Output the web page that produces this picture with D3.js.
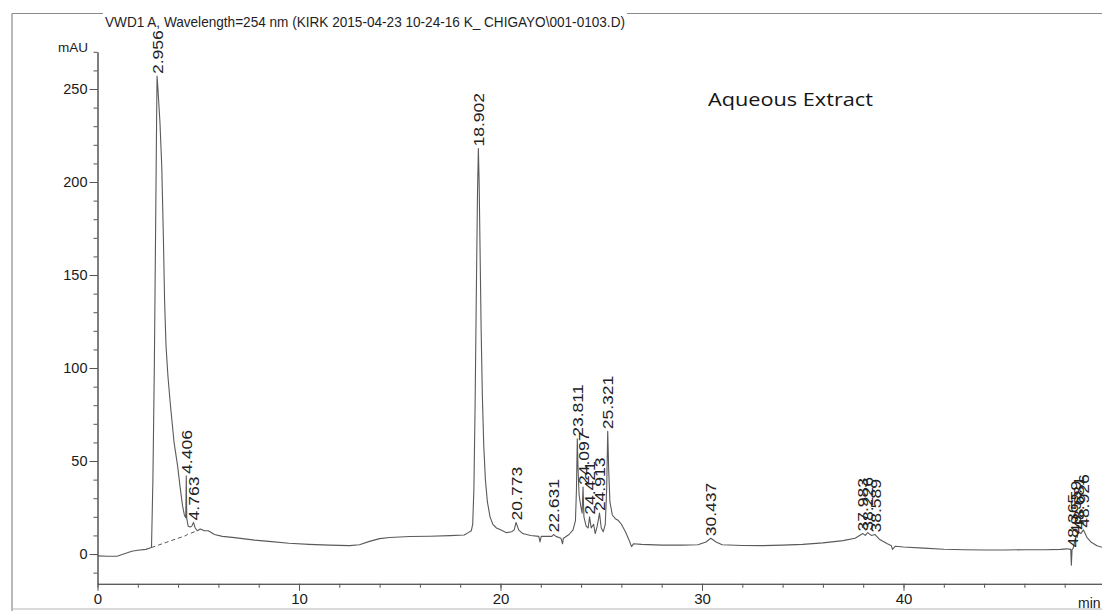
<!DOCTYPE html>
<html>
<head>
<meta charset="utf-8">
<script src="https://cdn.jsdelivr.net/npm/d3@7"></script>
<style>
  html, body { margin: 0; padding: 0; background: #fff; }
  svg { display: block; }
</style>
</head>
<body>
<svg id="chart" width="1102" height="611"></svg>
<script>
// VWD1 A, 254 nm chromatogram of the aqueous extract

// Retention time (min) and detector response (mAU) of the trace
const times = [
  0.0, 0.5, 1.0, 1.3, 1.7, 2.0, 2.4, 2.68,
  2.75, 2.82, 2.88, 2.93, 2.956, 3.0, 3.1, 3.19, 3.27, 3.33, 3.4, 3.5, 3.62,
  3.8, 3.98, 4.1, 4.22, 4.31, 4.38, 4.406, 4.43, 4.5, 4.6, 4.68, 4.763, 4.85, 4.95,
  5.1, 5.3, 5.5, 5.8, 6.2, 6.8, 7.2, 7.8, 8.5, 9.5, 10.5, 11.5, 12.5, 13.0,
  13.5, 14.0, 14.5, 15.5, 16.5, 17.5, 18.2, 18.4, 18.55,
  18.62, 18.68, 18.74, 18.8, 18.86, 18.902, 18.94, 18.99, 19.04, 19.1, 19.17,
  19.25, 19.35, 19.48, 19.62, 19.8, 20.0, 20.3, 20.55, 20.68, 20.773, 20.9, 21.1,
  21.5, 21.9, 21.96, 22.02, 22.4, 22.55, 22.631, 22.75, 23.0, 23.08, 23.12, 23.2,
  23.4, 23.6, 23.72, 23.77, 23.811, 23.85, 23.9, 23.98, 24.05, 24.097, 24.14,
  24.25, 24.35, 24.421, 24.5, 24.62, 24.7, 24.8, 24.913, 25.0, 25.1, 25.2,
  25.27, 25.321, 25.37, 25.43, 25.55, 25.7, 25.85, 26.0, 26.2, 26.4, 26.5, 26.6,
  27.0, 28.0, 29.0, 29.8, 30.2, 30.437, 30.7, 31.0, 32.0, 33.0, 34.0, 35.0,
  36.0, 37.0, 37.6, 37.983, 38.1, 38.226, 38.4, 38.589, 38.8, 39.2, 39.4, 39.45,
  39.6, 40.0, 41.0, 42.0, 43.0, 44.0, 45.0, 46.0, 47.0, 47.8, 48.1, 48.3,
  48.33, 48.365, 48.42, 48.5, 48.559, 48.62, 48.681, 48.8, 48.926, 49.1, 49.3,
  49.6, 49.9
];
const signal = [
  -1.0, -1.2, -1.1, 0.0, 1.5, 2.0, 2.5, 3.5,
  40, 100, 170, 230, 257, 250, 232, 208, 170, 136, 112, 95, 80,
  60, 47, 36, 26, 21, 19.5, 42, 19, 15, 14.5, 15, 17, 14, 12.5,
  13.5, 12.5, 12.5, 10.5, 9.5, 8.8, 8.3, 7.5, 6.8, 5.8, 5.2, 4.8, 4.5, 5.0,
  6.8, 8.3, 8.9, 9.4, 9.6, 9.9, 10.2, 11.5, 12.5,
  16, 35, 80, 140, 195, 218, 200, 160, 120, 85, 58,
  40, 28, 20, 16, 14, 13, 11.5, 12, 13, 17, 13, 11,
  10, 9.5, 6.5, 9.5, 9.5, 9.5, 10.5, 9.5, 8.5, 5.5, 8.5, 9,
  10.5, 13, 18, 35, 62, 45, 32, 26, 22, 36, 20,
  15, 14, 20, 14, 16, 11, 15, 22, 14, 12, 16,
  35, 66, 45, 28, 21, 19, 18, 16, 12, 7, 4, 5.5,
  5.2, 4.8, 4.8, 5.0, 6.5, 8.5, 6.5, 5.0, 4.6, 4.5, 4.8, 5.2,
  6.0, 7.2, 8.5, 11, 10, 11.5, 10, 10.5, 8, 5.5, 4.5, 2.5,
  4.2, 3.8, 3.2, 2.6, 2.3, 2.2, 2.2, 2.3, 2.3, 2.5, 2.8, 2.5,
  -6, 2.5, 3, 7, 9.5, 9, 12, 11, 13, 9, 6.5,
  4.5, 3.5
];

// Drawn baseline under the solvent front peaks
const baselineTimes = [2.68, 4.4, 4.45, 4.95];
const baselineValues = [3.5, 10, 10.5, 12.5];

// Integrated peaks, labelled by retention time
const peakTimes = [
  2.956, 4.406, 4.763, 18.902, 20.773, 22.631, 23.811, 24.097, 24.421, 24.913,
  25.321, 30.437, 37.983, 38.226, 38.589, 48.365, 48.559, 48.681, 48.926
];

const xMajorTicks = [0, 10, 20, 30, 40];
const yMajorTicks = [0, 50, 100, 150, 200, 250];

const title = "VWD1 A, Wavelength=254 nm (KIRK 2015-04-23 10-24-16 K_ CHIGAYO\\001-0103.D)";
const sampleName = "Aqueous Extract";

const svg = d3.select("#chart");
const W = 1102, H = 611;

const x = d3.scaleLinear().domain([0, 50]).range([97.5, 97.5 + 50 * 20.15]);
const y = d3.scaleLinear().domain([-16, 270]).range([583.8, 51.8]);

const lineInk = "#555";
const axisFont = "Liberation Sans, Arial, sans-serif";

// Page frame
const frame = svg.append("g").attr("stroke", "#8a8a8a").attr("fill", "none").attr("stroke-width", 1.2);
frame.append("line").attr("x1", 12).attr("x2", 12).attr("y1", 13.5).attr("y2", H);
frame.append("line").attr("x1", 12).attr("x2", W).attr("y1", 13.5).attr("y2", 13.5);
frame.append("line").attr("x1", 12).attr("x2", W).attr("y1", 609).attr("y2", 609).attr("stroke", "#b5b5b5");

// Title, with a white strip masking the frame line behind it
svg.append("rect")
  .attr("x", 103).attr("y", 8).attr("width", 524).attr("height", 12)
  .attr("fill", "#fff");
svg.append("text")
  .attr("x", 105).attr("y", 27)
  .attr("font-family", axisFont)
  .attr("font-size", 14.5)
  .attr("fill", "#1e1e1e")
  .attr("textLength", 520)
  .attr("lengthAdjust", "spacingAndGlyphs")
  .text(title);

// Axes
const yAxisMinor = d3.axisLeft(y).tickValues(d3.range(-10, 271, 10)).tickSize(4).tickSizeOuter(0).tickFormat("");
const yAxis = d3.axisLeft(y).tickValues(yMajorTicks).tickSize(8).tickSizeOuter(0).tickPadding(2);
const xAxisMinor = d3.axisBottom(x).tickValues(d3.range(0, 51, 2)).tickSize(4).tickSizeOuter(0).tickFormat("");
const xAxis = d3.axisBottom(x).tickValues(xMajorTicks).tickSize(7).tickSizeOuter(0).tickPadding(3);

function styleAxis(g, size) {
  g.selectAll("path, line").attr("stroke", lineInk).attr("stroke-width", 1);
  g.selectAll("text").attr("font-family", axisFont).attr("font-size", size).attr("fill", "#1a1a1a");
}

svg.append("g").attr("transform", `translate(${x(0)},0)`).call(yAxisMinor).call(g => styleAxis(g, 14.5));
svg.append("g").attr("transform", `translate(${x(0)},0)`).call(yAxis).call(g => styleAxis(g, 14.5));
svg.append("g").attr("transform", `translate(0,${y(-16)})`).call(xAxisMinor).call(g => styleAxis(g, 15));
svg.append("g").attr("transform", `translate(0,${y(-16)})`).call(xAxis).call(g => styleAxis(g, 15));

svg.append("text")
  .attr("x", 88).attr("y", 52)
  .attr("text-anchor", "end")
  .attr("font-family", axisFont).attr("font-size", 13.5).attr("fill", "#1a1a1a")
  .text("mAU");

svg.append("text")
  .attr("x", 1078).attr("y", 608)
  .attr("font-family", axisFont).attr("font-size", 14).attr("fill", "#1a1a1a")
  .text("min");

// Chromatogram trace
const traceData = times.map((t, i) => ({ t, v: signal[i] }));
const line = d3.line().x(d => x(d.t)).y(d => y(d.v));

svg.append("path")
  .datum(traceData)
  .attr("d", line)
  .attr("fill", "none")
  .attr("stroke", "#5a5a5a")
  .attr("stroke-width", 1.1)
  .attr("stroke-linejoin", "round");

// Dashed integration baseline
const baseData = baselineTimes.map((t, i) => ({ t, v: baselineValues[i] }));
svg.append("path")
  .datum(baseData)
  .attr("d", line)
  .attr("fill", "none")
  .attr("stroke", "#555")
  .attr("stroke-width", 1)
  .attr("stroke-dasharray", "4,3");

// Retention time labels above each apex
const labelG = svg.append("g");
peakTimes.forEach(t => {
  const i = times.indexOf(t);
  const v = signal[i];
  const px = x(t) + 5.5, py = y(v) - 2;
  const txt = labelG.append("text")
    .attr("transform", `translate(${px},${py}) rotate(-90)`)
    .attr("font-family", axisFont)
    .attr("font-size", 14)
    .attr("fill", "#222")
    .text(t.toFixed(3));
  const len = txt.node().getComputedTextLength();
  txt.attr("textLength", len * 1.25).attr("lengthAdjust", "spacingAndGlyphs");
});

// Sample annotation
svg.append("text")
  .attr("x", 708).attr("y", 106)
  .attr("font-family", "Open Sans, Lato, sans-serif")
  .attr("font-size", 19)
  .attr("fill", "#141414")
  .attr("textLength", 165)
  .attr("lengthAdjust", "spacingAndGlyphs")
  .text(sampleName);
</script>
</body>
</html>
